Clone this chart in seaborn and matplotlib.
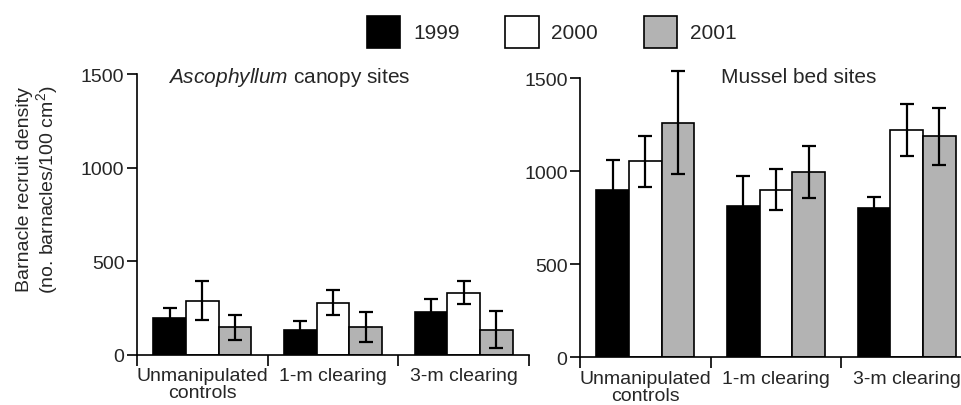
import numpy as np
import pandas as pd
import matplotlib
matplotlib.use('Agg')
import matplotlib.pyplot as plt
import seaborn as sns
from matplotlib.patches import Patch

# Data (means and error bar half-widths)
categories = ['Unmanipulated\ncontrols', '1-m clearing', '3-m clearing']
years = ['1999', '2000', '2001']

asco_1999 = [195, 136, 228]
asco_2000 = [290, 280, 332]
asco_2001 = [147, 152, 136]
asco_1999_err = [54, 43, 70]
asco_2000_err = [105, 67, 61]
asco_2001_err = [65, 80, 97]

mussel_1999 = [898, 812, 801]
mussel_2000 = [1053, 901, 1219]
mussel_2001 = [1261, 996, 1186]
mussel_1999_err = [162, 164, 59]
mussel_2000_err = [138, 108, 140]
mussel_2001_err = [275, 141, 155]

palette = {'1999': 'black', '2000': 'white', '2001': '#b3b3b3'}

sns.set_style('ticks')
plt.rcParams['font.family'] = ['Liberation Sans', 'DejaVu Sans']
plt.rcParams['mathtext.fontset'] = 'custom'
plt.rcParams['mathtext.rm'] = 'Liberation Sans'
plt.rcParams['mathtext.it'] = 'Liberation Sans:italic'


def draw_panel(ax, v1999, v2000, v2001, errs):
    df = pd.DataFrame({
        'site': categories * 3,
        'year': np.repeat(years, 3),
        'density': v1999 + v2000 + v2001,
    })
    sns.barplot(data=df, x='site', y='density', hue='year', palette=palette,
                width=0.75, gap=0, edgecolor='black', linewidth=1.2,
                saturation=1, errorbar=None, legend=False, ax=ax)
    # error bars on top of each bar
    for container, err in zip(ax.containers, errs):
        for bar, e in zip(container, err):
            x = bar.get_x() + bar.get_width() / 2
            ax.errorbar(x, bar.get_height(), yerr=e, color='black', lw=1.6,
                        capsize=5, capthick=1.6, clip_on=False, zorder=3)
    ax.set_xlim(-0.5, 2.5)
    ax.set_ylim(0, 1500)
    ax.set_yticks([0, 500, 1000, 1500])
    ax.set_xlabel('')
    ax.set_ylabel('')
    ax.set_xticks([-0.5, 0.5, 1.5, 2.5], minor=True)
    ax.tick_params(axis='x', which='major', length=0, pad=9, labelsize=14)
    ax.tick_params(axis='x', which='minor', length=8, width=1.2, color='black')
    ax.tick_params(axis='y', length=7, width=1.2, labelsize=14, pad=2, color='black')
    for lab in ax.get_xticklabels():
        lab.set_linespacing(1.0)
    sns.despine(ax=ax)
    for s in ['left', 'bottom']:
        ax.spines[s].set_linewidth(1.2)
        ax.spines[s].set_color('black')


fig = plt.figure(figsize=(9.61, 4.06), dpi=100)
ax1 = fig.add_axes([137 / 961, 50 / 406, 392 / 961, 281 / 406])
ax2 = fig.add_axes([580 / 961, 47.7 / 406, 392 / 961, 279.3 / 406])

draw_panel(ax1, asco_1999, asco_2000, asco_2001,
           [asco_1999_err, asco_2000_err, asco_2001_err])
draw_panel(ax2, mussel_1999, mussel_2000, mussel_2001,
           [mussel_1999_err, mussel_2000_err, mussel_2001_err])

ax1.text(0.079, 0.99, r'$\it{Ascophyllum}$ canopy sites', transform=ax1.transAxes,
         ha='left', va='center', fontsize=15)
ax2.text(0.557, 1.005, 'Mussel bed sites', transform=ax2.transAxes,
         ha='center', va='center', fontsize=15)

fig.text(0.0395, 0.532, 'Barnacle recruit density\n(no. barnacles/100 cm$^2$)',
         rotation=90, ha='center', va='center', fontsize=14, linespacing=1.1,
         multialignment='center')

handles = [Patch(facecolor=palette[y], edgecolor='black', linewidth=1.2, label=y)
           for y in years]
fig.legend(handles=handles, loc='upper center', bbox_to_anchor=(0.574, 1.005),
           ncol=3, frameon=False, fontsize=15, handlelength=1.6, handleheight=2.0,
           handletextpad=0.6, columnspacing=2.2)

fig.savefig('out.png', dpi=100)
